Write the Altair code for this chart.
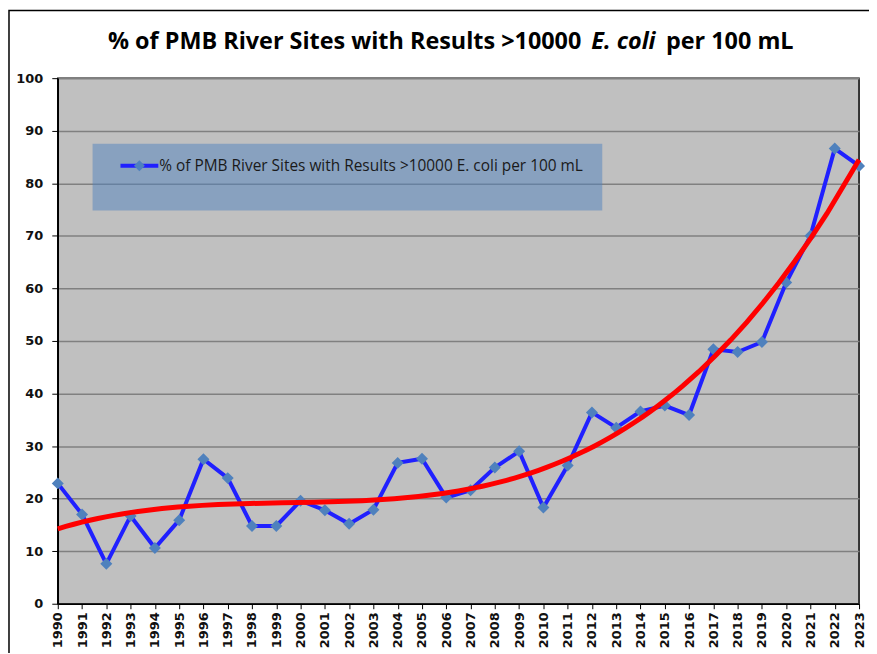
import altair as alt
import pandas as pd

years = list(range(1990, 2024))
percent = [22.9, 17.0, 7.6, 16.7, 10.6, 15.9, 27.5, 23.9, 14.8, 14.8,
           19.6, 17.8, 15.2, 17.9, 26.8, 27.6, 20.2, 21.6, 25.9, 29.0,
           18.3, 26.3, 36.4, 33.5, 36.6, 37.7, 35.9, 48.4, 47.9, 49.8,
           61.1, 70.0, 86.6, 83.3]
y_ticks = list(range(0, 101, 10))
series_name = "% of PMB River Sites with Results >10000 E. coli per 100 mL"
title_parts = ["% of PMB River Sites with Results >10000", "E. coli", "per 100 mL"]

df = pd.DataFrame({"year": years, "pct": percent})

W, H = 805, 528

x_enc = alt.X("year:Q",
              scale=alt.Scale(domain=[1990, 2023], nice=False, zero=False),
              axis=alt.Axis(values=years, format="d", labelAngle=270, title=None,
                            grid=False, tickSize=5, labelPadding=3,
                            labelFont="DejaVu Sans", labelFontWeight="bold",
                            labelFontSize=13, labelColor="#111111",
                            domainColor="#000000", tickColor="#000000",
                            domainWidth=1.5, labelOverlap=False,
                            labelBound=False, labelFlush=False))
y_enc = alt.Y("pct:Q",
              scale=alt.Scale(domain=[0, 100], nice=False),
              axis=alt.Axis(values=y_ticks, title=None, grid=True,
                            gridColor="#808080", gridWidth=1.5,
                            tickSize=6, labelPadding=9,
                            labelFont="DejaVu Sans", labelFontWeight="bold",
                            labelFontSize=13, labelColor="#111111",
                            domainColor="#000000", tickColor="#000000",
                            domainWidth=1.5))

base = alt.Chart(df)

frame = alt.Chart(pd.DataFrame({"a": [0]})).mark_rect(
    fill=None, stroke="#000000", strokeWidth=1.5
).encode(x=alt.value(-49), x2=alt.value(900), y=alt.value(-68), y2=alt.value(700))

line = base.mark_line(color="#2020ff", strokeWidth=4).encode(x=x_enc, y=y_enc)
pts = base.mark_point(shape="diamond", filled=True, color="#4f81bd",
                      size=145, opacity=1).encode(x=x_enc, y=y_enc)
trend = base.transform_regression(
    "year", "pct", method="poly", order=3, extent=[1990, 2023]
).mark_line(color="#ff0000", strokeWidth=5).encode(x=x_enc, y=y_enc)

one = pd.DataFrame({"t": [series_name]})
leg_box = alt.Chart(one).mark_rect(fill="#4f81bd", opacity=0.5).encode(
    x=alt.value(35), x2=alt.value(547), y=alt.value(66), y2=alt.value(133))
leg_line = alt.Chart(one).mark_rule(color="#2020ff", strokeWidth=4).encode(
    x=alt.value(63), x2=alt.value(101), y=alt.value(88))
leg_pt = alt.Chart(one).mark_point(shape="diamond", filled=True, color="#4f81bd",
                                   size=120, opacity=1).encode(
    x=alt.value(82), y=alt.value(88))
leg_text = alt.Chart(one).mark_text(align="left", baseline="middle", font="Open Sans",
                                    fontSize=15.5, color="#1a1a1a").encode(
    x=alt.value(102), y=alt.value(88), text="t:N")

tdf = pd.DataFrame({"t": title_parts})
t1 = alt.Chart(tdf).transform_filter(alt.datum.t == title_parts[0]).mark_text(
    align="right", baseline="middle", font="Open Sans", fontWeight="bold",
    fontSize=23.5, color="#000000").encode(x=alt.value(526), y=alt.value(-36), text="t:N")
t2 = alt.Chart(tdf).transform_filter(alt.datum.t == title_parts[1]).mark_text(
    align="left", baseline="middle", font="Open Sans", fontWeight="bold", fontStyle="italic",
    fontSize=23.5, color="#000000").encode(x=alt.value(536), y=alt.value(-36), text="t:N")
t3 = alt.Chart(tdf).transform_filter(alt.datum.t == title_parts[2]).mark_text(
    align="left", baseline="middle", font="Open Sans", fontWeight="bold",
    fontSize=23.5, color="#000000").encode(x=alt.value(611), y=alt.value(-36), text="t:N")

chart = alt.layer(
    line, pts, trend, leg_box, leg_line, leg_pt, leg_text, t1, t2, t3, frame
).properties(
    width=W, height=H,
    autosize=alt.AutoSizeParams(type="none"),
    padding={"left": 50, "top": 69, "right": 10, "bottom": 48},
    background="#ffffff"
).configure_view(
    fill="#c0c0c0", stroke="#000000", strokeWidth=1.5
)

chart.save("out.html", embed_options={"renderer": "svg", "actions": False})
